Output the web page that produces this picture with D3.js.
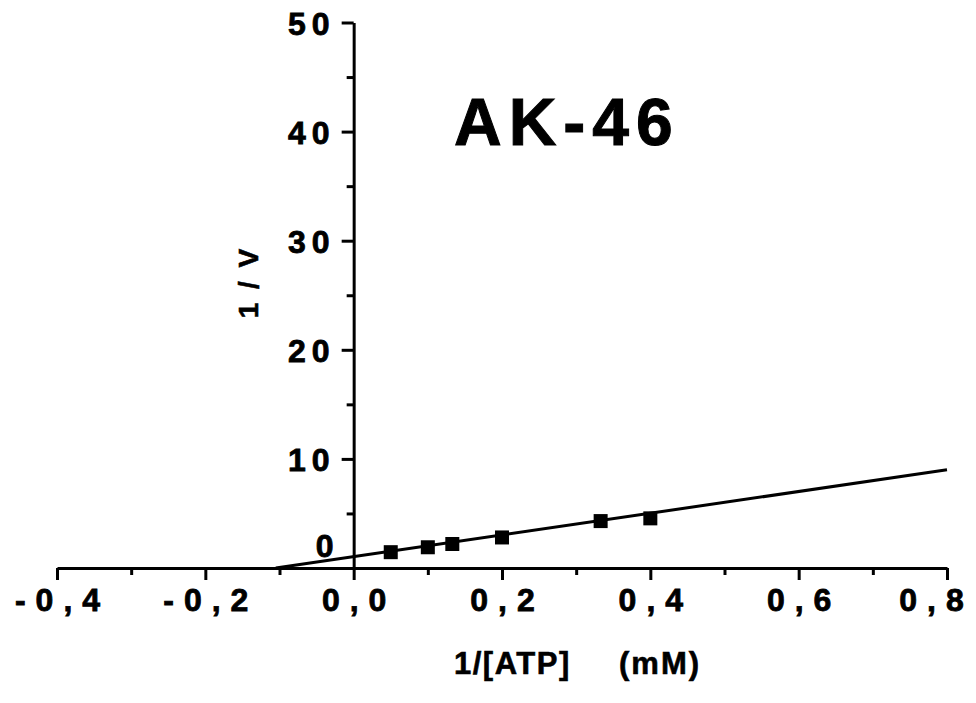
<!DOCTYPE html>
<html>
<head>
<meta charset="utf-8">
<script src="https://cdn.jsdelivr.net/npm/d3@7"></script>
<style>
  html, body { margin: 0; padding: 0; background: #fff; }
  svg { display: block; }
  text { font-family: "Liberation Sans", Arial, Helvetica, sans-serif; font-weight: bold; fill: #000; }
</style>
</head>
<body>
<svg id="chart" width="976" height="703"></svg>
<script>
// ---- data ----
const title = "AK-46";
const xLabelParts = ["1/[ATP]", "(mM)"];
const yLabel = "1 / V";
const invATP = [0.05, 0.10, 0.133, 0.20, 0.333, 0.40];
const invV   = [1.45, 1.9, 2.2, 2.8, 4.3, 4.55];
const fitX = [-0.105, 0.80];
const fitY = [0.0, 9.0];
const xTicks = [-0.4, -0.2, 0.0, 0.2, 0.4, 0.6, 0.8];
const xTickLabels = ["-0,4", "-0,2", "0,0", "0,2", "0,4", "0,6", "0,8"];
const xMinorTicks = [-0.3, -0.1, 0.1, 0.3, 0.5, 0.7];
const yTicks = [0, 10, 20, 30, 40, 50];
const yTickLabels = ["0", "10", "20", "30", "40", "50"];
const yMinorTicks = [5, 15, 25, 35, 45];

// ---- scales ----
const x = d3.scaleLinear().domain([-0.4, 0.8]).range([57, 947]);
const y = d3.scaleLinear().domain([0, 50]).range([568, 22.5]);

const svg = d3.select("#chart");
const LSX = 10; // letter spacing for x tick labels
const LSY = 6;  // letter spacing for y tick labels

// x axis
const xAxisG = svg.append("g").attr("transform", `translate(0,${y(0)})`);
const xAxis = d3.axisBottom(x).tickValues(xTicks).tickSize(12).tickSizeOuter(0).tickFormat((d, i) => xTickLabels[i]);
xAxisG.call(xAxis);
xAxisG.select(".domain").attr("stroke", "#000").attr("stroke-width", 3);
xAxisG.selectAll(".tick line").attr("stroke", "#000").attr("stroke-width", 3);
xAxisG.selectAll(".tick text")
  .attr("y", 43).attr("dy", 0)
  .attr("dx", (d, i) => i === xTicks.length - 1 ? LSX / 2 - 16 : LSX / 2)
  .style("font-size", "32px")
  .style("letter-spacing", LSX + "px")
  .attr("stroke", "#000").attr("stroke-width", 0.8)
  .attr("font-family", null);
const xMinorG = svg.append("g").attr("transform", `translate(0,${y(0)})`);
xMinorG.call(d3.axisBottom(x).tickValues(xMinorTicks).tickSize(7).tickFormat(""));
xMinorG.select(".domain").remove();
xMinorG.selectAll(".tick line").attr("stroke", "#000").attr("stroke-width", 3);

// y axis
const yAxisG = svg.append("g").attr("transform", `translate(${x(0)},0)`);
const yAxis = d3.axisLeft(y).tickValues(yTicks).tickSize(12).tickSizeOuter(0).tickFormat((d, i) => yTickLabels[i]);
yAxisG.call(yAxis);
yAxisG.select(".domain").attr("stroke", "#000").attr("stroke-width", 3);
yAxisG.selectAll(".tick line").attr("stroke", "#000").attr("stroke-width", 3)
  .attr("display", d => d === 0 ? "none" : null);
yAxisG.selectAll(".tick text")
  .attr("x", -18)
  .attr("dy", "0.36em")
  .style("font-size", "32px")
  .style("letter-spacing", LSY + "px")
  .attr("stroke", "#000").attr("stroke-width", 0.8)
  .attr("font-family", null);
yAxisG.selectAll(".tick text").filter(d => d === 0).attr("x", -14).attr("dy", "-0.36em");
const yMinorG = svg.append("g").attr("transform", `translate(${x(0)},0)`);
yMinorG.call(d3.axisLeft(y).tickValues(yMinorTicks).tickSize(7).tickFormat(""));
yMinorG.select(".domain").remove();
yMinorG.selectAll(".tick line").attr("stroke", "#000").attr("stroke-width", 3);

// fit line
const line = d3.line().x(d => x(d[0])).y(d => y(d[1]));
svg.append("path")
  .datum(fitX.map((v, i) => [v, fitY[i]]))
  .attr("d", line)
  .attr("fill", "none").attr("stroke", "#000").attr("stroke-width", 3);

// points
const S = 14;
svg.append("g").selectAll("rect")
  .data(invATP.map((v, i) => [v, invV[i]]))
  .join("rect")
  .attr("x", d => x(d[0]) - S / 2)
  .attr("y", d => y(d[1]) - S / 2)
  .attr("width", S).attr("height", S)
  .attr("fill", "#000");

// title
svg.append("text").attr("x", 454).attr("y", 145)
  .style("font-size", "66px").style("letter-spacing", "7px")
  .attr("stroke", "#000").attr("stroke-width", 1)
  .text(title);

// x axis label
svg.append("text").attr("x", 454).attr("y", 674)
  .style("font-size", "31px").style("letter-spacing", "1.5px")
  .attr("stroke", "#000").attr("stroke-width", 0.6)
  .text(xLabelParts[0]);
svg.append("text").attr("x", 619).attr("y", 674)
  .style("font-size", "31px").style("letter-spacing", "2px")
  .attr("stroke", "#000").attr("stroke-width", 0.6)
  .text(xLabelParts[1]);

// y axis label
svg.append("text")
  .attr("transform", "translate(258,282) rotate(-90)")
  .attr("text-anchor", "middle")
  .style("font-size", "28px").style("letter-spacing", "3px")
  .attr("stroke", "#000").attr("stroke-width", 0.6)
  .text(yLabel);
</script>
</body>
</html>
